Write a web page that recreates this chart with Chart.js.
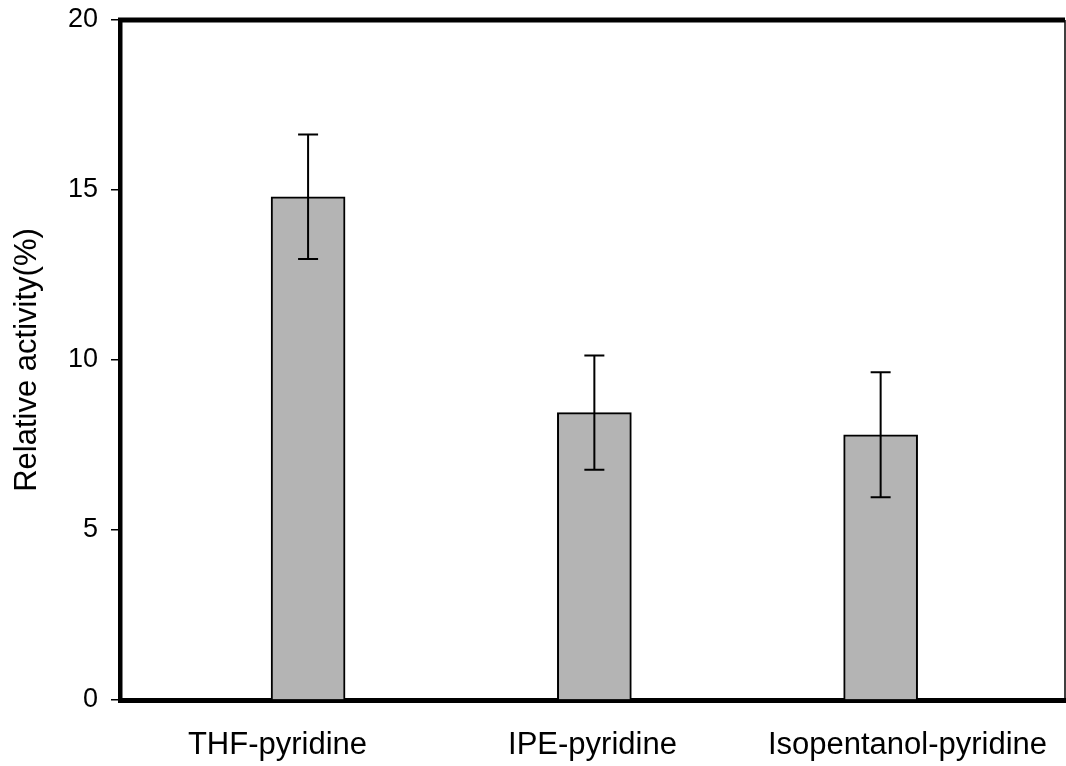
<!DOCTYPE html>
<html>
<head>
<meta charset="utf-8">
<script src="https://cdn.jsdelivr.net/npm/chart.js@4/dist/chart.umd.min.js"></script>
<style>
  html, body { margin: 0; padding: 0; background: #fff; }
  canvas { display: block; }
</style>
</head>
<body>
<canvas id="activityChart" width="1066" height="766"></canvas>
<script>
// data
const categories = ['THF-pyridine', 'IPE-pyridine', 'Isopentanol-pyridine'];
const activity = [14.8, 8.45, 7.8];
const activityErr = [1.83, 1.68, 1.84];
const yTicks = [0, 5, 10, 15, 20];

const FONT = '"Liberation Sans", Arial, sans-serif';

// error bars drawn on top of the bars
const errorBars = {
  id: 'errorBars',
  afterDatasetsDraw(chart) {
    const ctx = chart.ctx;
    const y = chart.scales.y;
    const meta = chart.getDatasetMeta(0);
    ctx.save();
    ctx.strokeStyle = '#000';
    ctx.lineWidth = 2;
    meta.data.forEach((bar, i) => {
      const top = y.getPixelForValue(activity[i] + activityErr[i]);
      const bottom = y.getPixelForValue(activity[i] - activityErr[i]);
      ctx.beginPath();
      ctx.moveTo(bar.x, top);
      ctx.lineTo(bar.x, bottom);
      ctx.moveTo(bar.x - 10, top);
      ctx.lineTo(bar.x + 10, top);
      ctx.moveTo(bar.x - 10, bottom);
      ctx.lineTo(bar.x + 10, bottom);
      ctx.stroke();
    });
    ctx.restore();
  }
};

// top and right frame lines
const frame = {
  id: 'frame',
  afterDraw(chart) {
    const { ctx, chartArea } = chart;
    ctx.save();
    ctx.strokeStyle = '#000';
    ctx.lineWidth = 5;
    ctx.beginPath();
    ctx.moveTo(chartArea.left - 2, chartArea.top);
    ctx.lineTo(chartArea.right, chartArea.top);
    ctx.stroke();
    ctx.lineWidth = 1.5;
    ctx.beginPath();
    ctx.moveTo(chartArea.right, chartArea.top);
    ctx.lineTo(chartArea.right, chartArea.bottom);
    ctx.stroke();
    ctx.restore();
  }
};

const ctx = document.getElementById('activityChart').getContext('2d');

new Chart(ctx, {
  type: 'bar',
  data: {
    datasets: [
      {
        data: activity.map((v, i) => ({ x: i, y: v })),
        xAxisID: 'xb',
        backgroundColor: '#b4b4b4',
        borderColor: '#000',
        borderWidth: 2,
        borderSkipped: 'bottom',
        barThickness: 74
      }
    ]
  },
  options: {
    responsive: false,
    animation: false,
    layout: { padding: { top: 20, right: 1, left: 0, bottom: 0 } },
    plugins: {
      legend: { display: false },
      tooltip: { enabled: false }
    },
    scales: {
      xb: {
        type: 'linear',
        display: false,
        offset: false,
        min: -0.657,
        max: 2.644
      },
      x: {
        type: 'category',
        labels: categories,
        offset: true,
        grid: { display: false, drawTicks: false },
        border: { display: true, color: '#000', width: 5 },
        ticks: {
          color: '#000',
          padding: 27,
          maxRotation: 0,
          autoSkip: false,
          font: { family: FONT, size: 31 }
        },
        afterFit(scale) {
          scale.height = 66;
          scale.paddingLeft = 0;
          scale.paddingRight = 0;
        }
      },
      y: {
        min: 0,
        max: 20,
        afterBuildTicks(scale) {
          scale.ticks = yTicks.map(v => ({ value: v }));
        },
        grid: {
          drawOnChartArea: false,
          drawTicks: true,
          tickLength: 9,
          color: '#000',
          lineWidth: 1.5
        },
        border: { display: true, color: '#000', width: 4.5 },
        ticks: {
          color: '#000',
          padding: 13,
          font: { family: FONT, size: 27 }
        },
        title: {
          display: true,
          text: 'Relative activity(%)',
          color: '#000',
          padding: { top: 9, bottom: 0 },
          font: { family: FONT, size: 31 }
        },
        afterFit(scale) {
          scale.width = 120;
          scale.paddingTop = 0;
          scale.paddingBottom = 0;
        }
      }
    }
  },
  plugins: [errorBars, frame]
});
</script>
</body>
</html>
